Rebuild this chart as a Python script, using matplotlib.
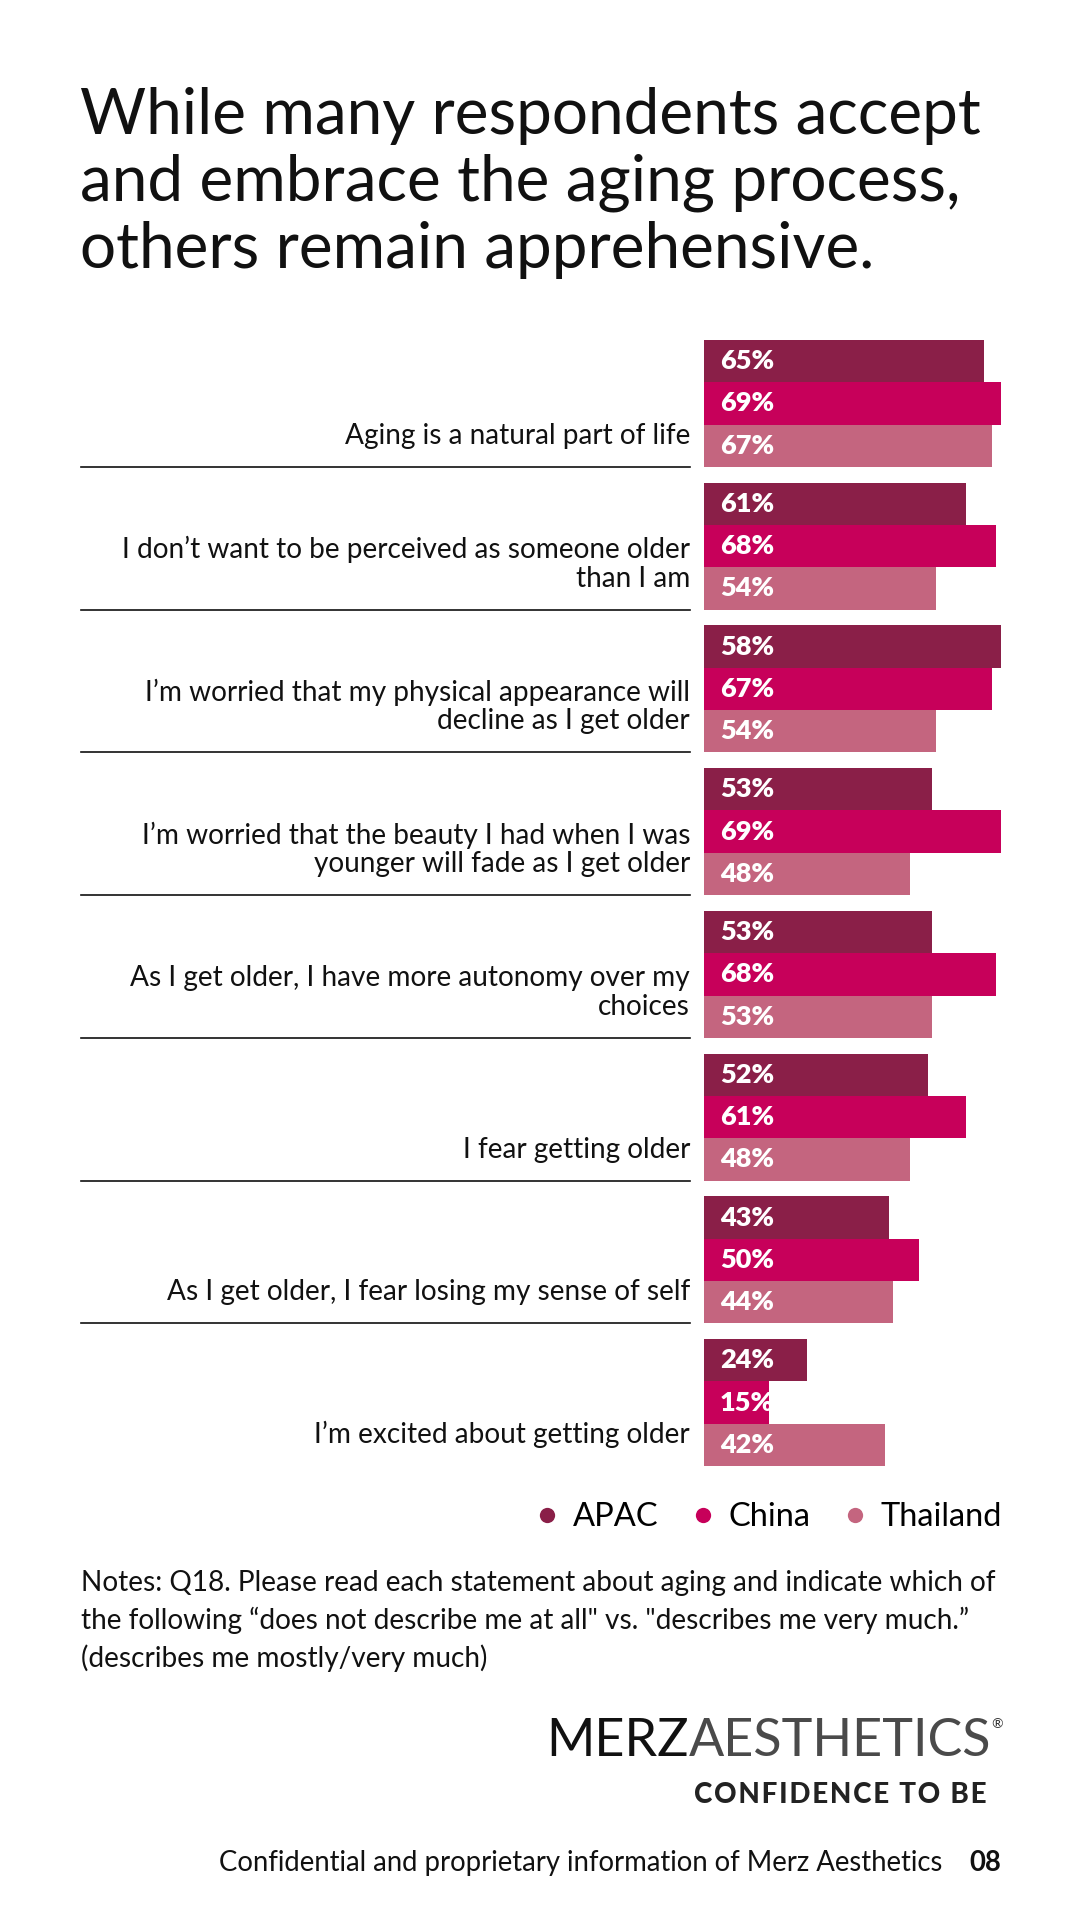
import matplotlib
matplotlib.use('Agg')
import matplotlib.pyplot as plt
from matplotlib.lines import Line2D
from matplotlib.transforms import blended_transform_factory

plt.rcParams['font.family'] = ['Lato', 'DejaVu Sans']

# ========== data ==========
statements = [
    'Aging is a natural part of life',
    'I don\u2019t want to be perceived as someone older\nthan I am',
    'I\u2019m worried that my physical appearance will\ndecline as I get older',
    'I\u2019m worried that the beauty I had when I was\nyounger will fade as I get older',
    'As I get older, I have more autonomy over my\nchoices',
    'I fear getting older',
    'As I get older, I fear losing my sense of self',
    'I\u2019m excited about getting older',
]
apac = [65, 61, 58, 53, 53, 52, 43, 24]
china = [69, 68, 67, 69, 68, 61, 50, 15]
thailand = [67, 54, 54, 48, 53, 48, 44, 42]
# the source draws the 58% APAC bar as long as the 69% bar; lengths as drawn
apac_drawn = [65, 61, 69, 53, 53, 52, 43, 24]

series = ['APAC', 'China', 'Thailand']
colors = ['#8A1F48', '#C7005A', '#C4657F']

W, H = 1080, 1920
def fx(x):
    return x / W
def fy(y):
    return 1 - y / H

fig = plt.figure(figsize=(10.8, 19.2), dpi=100)
fig.patch.set_facecolor('white')

# ========== title ==========
fig.text(fx(80), fy(87), 'While many respondents accept\nand embrace the aging process,\nothers remain apprehensive.',
         fontsize=46, color='#111111', va='top', ha='left', linespacing=1.19)

# ========== bars ==========
bar_left, bar_top, bar_bottom = 704, 340, 1466
px_per_pct = 4.30
xmax = 80
ax = fig.add_axes([fx(bar_left), fy(bar_bottom), xmax * px_per_pct / W, (bar_bottom - bar_top) / H])
bh = 42.3 / 142.7
n = len(statements)
ax.set_xlim(0, xmax)
ax.set_ylim(n - 1 + 1.5 * bh, -1.5 * bh)
ax.axis('off')

for k, (vals, drawn, col) in enumerate(zip([apac, china, thailand], [apac_drawn, china, thailand], colors)):
    ys = [i + (k - 1) * bh for i in range(n)]
    ax.barh(ys, drawn, height=bh, left=0, color=col, edgecolor='none')
    for y, v in zip(ys, vals):
        ax.text(16 / px_per_pct, y, f'{v}%', color='white', fontsize=19.5, fontweight='heavy',
                va='center', ha='left')

# ========== statement labels + separators ==========
tr = blended_transform_factory(fig.transFigure, ax.transData)
for i, s in enumerate(statements):
    gb = i + 1.5 * bh
    ax.text(fx(690), gb - 18 / 142.7, s, transform=tr, fontsize=20.2, color='#111111',
            ha='right', va='bottom', linespacing=1.12)
    if i < n - 1:
        ax.plot([fx(81), fx(690)], [gb, gb], transform=tr, color='#111111', lw=1.2, clip_on=False)

# ========== legend ==========
handles = [Line2D([], [], marker='o', linestyle='none', markersize=11, markerfacecolor=c,
                  markeredgecolor='none', label=s) for s, c in zip(series, colors)]
fig.legend(handles=handles, loc='center right', bbox_to_anchor=(fx(1002), fy(1517)),
           ncol=3, frameon=False, fontsize=23.5, handlelength=0.55, handletextpad=0.5,
           columnspacing=1.1, borderaxespad=0, borderpad=0)

# ========== notes ==========
fig.text(fx(81), fy(1570), 'Notes: Q18. Please read each statement about aging and indicate which of\n'
         'the following \u201cdoes not describe me at all" vs. "describes me very much.\u201d\n'
         '(describes me mostly/very much)',
         fontsize=20.2, color='#111111', va='top', ha='left', linespacing=1.47)

# ========== logo ==========
fig.text(fx(546), fy(1742), 'MERZ', fontsize=37.5, color='#111111', va='center', ha='left')
fig.text(fx(689), fy(1742), 'AESTHETICS', fontsize=37.5, color='#4a4a4a',
         va='center', ha='left')
fig.text(fx(1003), fy(1724), '\u00ae', fontsize=10, color='#333333', va='center', ha='right')
fig.text(fx(987), fy(1795), '\u200a'.join('CONFIDENCE TO BE'), fontsize=20, color='#222222',
         fontweight='black', va='center', ha='right')

# ========== footer ==========
fig.text(fx(942), fy(1863), 'Confidential and proprietary information of Merz Aesthetics',
         fontsize=19.8, color='#111111', va='center', ha='right')
fig.text(fx(1001), fy(1863), '08', fontsize=19.8, color='#111111', fontweight='bold',
         va='center', ha='right')

fig.savefig('out.png', dpi=100, facecolor='white')
